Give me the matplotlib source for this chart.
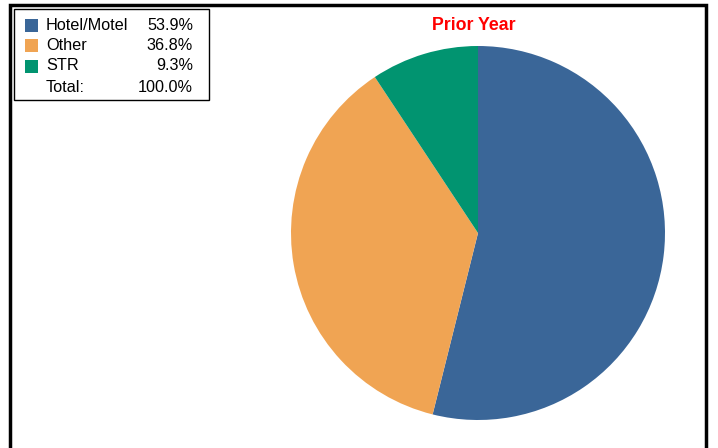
import matplotlib.pyplot as plt
import matplotlib.patches as patches

OUTPUT_PLOT_FILE = 'out.png'

# chart data
categories = ['Hotel/Motel', 'Other', 'STR']
shares = [53.9, 36.8, 9.3]
total_label = 'Total:'
total_value = '100.0%'
colors = ['#3A6698', '#F0A453', '#019470']
title = 'Prior Year'

W, H = 718, 448

plt.rcParams['font.family'] = ['Liberation Sans', 'DejaVu Sans']


def fx(px):
	return px / W


def fy(py):
	return 1 - py / H


fig = plt.figure(figsize=(W / 100, H / 100), dpi=100)

# outer frame, open at the bottom edge of the picture
fig.patches.append(patches.Rectangle((fx(10), fy(470)), fx(706) - fx(10), fy(5) - fy(470),
	transform=fig.transFigure, fill=False, edgecolor='black', linewidth=2.5))

# pie, centred at (478, 233) px with radius 187 px
cx, cy, r = 478, 233, 187
ax = fig.add_axes([fx(cx - r), fy(cy + r), 2 * r / W, 2 * r / H])
ax.pie(shares, colors=colors, startangle=90, counterclock=False,
	wedgeprops=dict(linewidth=0))
ax.set_xlim(-1, 1)
ax.set_ylim(-1, 1)
ax.set_aspect('equal')
ax.axis('off')

fig.text(fx(474), fy(25), title, color='#FF0000', fontsize=12.8, fontweight='bold',
	ha='center', va='center')

# legend box
fig.patches.append(patches.Rectangle((fx(14), fy(100)), fx(209) - fx(14), fy(9) - fy(100),
	transform=fig.transFigure, fill=False, edgecolor='black', linewidth=1))

rows_y = [26, 46, 66, 88]
for i, (name, share, color) in enumerate(zip(categories, shares, colors)):
	y = rows_y[i]
	fig.patches.append(patches.Rectangle((fx(25), fy(y + 6.5)), 13 / W, 13 / H,
		transform=fig.transFigure, facecolor=color, edgecolor='none'))
	fig.text(fx(46), fy(y), name, fontsize=11.7, ha='left', va='center')
	fig.text(fx(193), fy(y), '{:.1f}%'.format(share), fontsize=11.7, ha='right', va='center')

fig.text(fx(46), fy(rows_y[3]), total_label, fontsize=11.7, ha='left', va='center')
fig.text(fx(193), fy(rows_y[3]), total_value, fontsize=11.7, ha='right', va='center')

fig.savefig(OUTPUT_PLOT_FILE, dpi=100)
